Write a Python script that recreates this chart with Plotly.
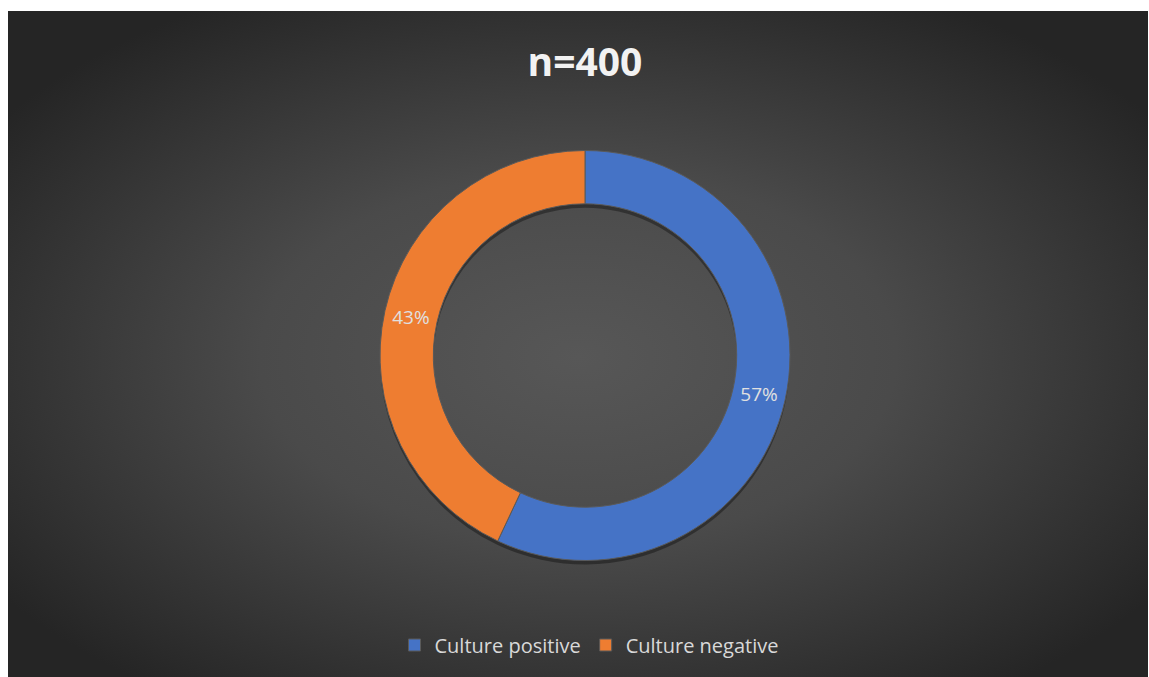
import base64
import plotly.graph_objects as go

# Culture results, n = 400
categories = ["Culture positive", "Culture negative"]
shares = [57, 43]
slice_colors = ["#4573C6", "#EE7D31"]
title_text = "n=400"

W, H = 1149, 677

# radial-gradient backdrop for the dark chart panel
bg_svg = """<svg xmlns='http://www.w3.org/2000/svg' width='1140' height='666' viewBox='0 0 1140 666' preserveAspectRatio='none'>
<defs><radialGradient id='g' cx='0.5' cy='0.52' r='0.62' fx='0.5' fy='0.52' gradientUnits='objectBoundingBox'>
<stop offset='0' stop-color='#575757'/>
<stop offset='0.45' stop-color='#4a4a4a'/>
<stop offset='1' stop-color='#252525'/>
</radialGradient></defs>
<rect width='1140' height='666' fill='url(#g)'/></svg>"""
bg_uri = "data:image/svg+xml;base64," + base64.b64encode(bg_svg.encode()).decode()

cx, cy, R = 585, 355.5, 205
HOLE = 0.74


def domain(radius, dy=0.0):
    return dict(x=[(cx - radius) / W, (cx + radius) / W],
                y=[(H - cy - dy - radius) / H, (H - cy - dy + radius) / H])


# a wider, invisible ring centred on the same mid-radius carries the percent labels
mid_r = R * (1 + HOLE) / 2
R_txt = 240
hole_txt = (2 * mid_r - R_txt) / R_txt

fig = go.Figure()

# soft drop shadow under the ring
fig.add_trace(go.Pie(
    labels=categories, values=shares, hole=HOLE, sort=False, direction="clockwise",
    marker=dict(colors=["rgba(0,0,0,0.35)"] * 2, line=dict(width=0)),
    textinfo="none", hoverinfo="skip", showlegend=False,
    domain=domain(R, dy=4),
))

fig.add_trace(go.Pie(
    labels=categories, values=shares, hole=HOLE, sort=False, direction="clockwise",
    marker=dict(colors=slice_colors, line=dict(color="#5a5a5a", width=1)),
    textinfo="none",
    domain=domain(R),
))

fig.add_trace(go.Pie(
    labels=categories, values=shares, hole=hole_txt, sort=False, direction="clockwise",
    marker=dict(colors=["rgba(0,0,0,0)"] * 2, line=dict(width=0)),
    textposition="inside", insidetextorientation="horizontal",
    texttemplate="%{value}%",
    textfont=dict(family="Open Sans, Lato, sans-serif", size=19, color="#e0e0e0"),
    hoverinfo="skip", showlegend=False,
    domain=domain(R_txt),
))

fig.update_layout(
    width=W, height=H,
    margin=dict(l=0, r=0, t=0, b=0),
    paper_bgcolor="white",
    plot_bgcolor="rgba(0,0,0,0)",
    images=[dict(source=bg_uri, xref="paper", yref="paper",
                 x=8 / W, y=1 - 11 / H, sizex=(1148 - 8) / W, sizey=(677 - 11) / H,
                 xanchor="left", yanchor="top", sizing="stretch", layer="below")],
    title=dict(text="<b>" + title_text + "</b>", x=585 / W, xanchor="center",
               y=1 - 62 / H, yanchor="middle",
               font=dict(family="Open Sans, Lato, sans-serif", size=39, color="#f2f2f2")),
    legend=dict(orientation="h", x=589 / W, xanchor="center", y=1 - 645 / H, yanchor="middle",
                font=dict(family="Open Sans, Lato, sans-serif", size=20, color="#d9d9d9"),
                bgcolor="rgba(0,0,0,0)", itemwidth=30, traceorder="normal",
                itemclick=False),
)

fig.write_html("out.html")
